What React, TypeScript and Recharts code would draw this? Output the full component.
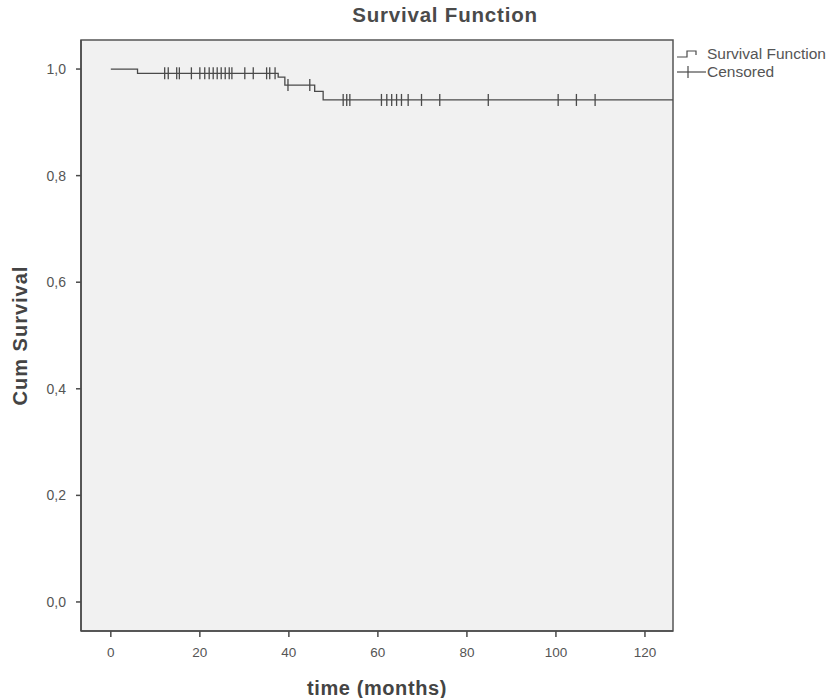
import {
  ComposedChart,
  Line,
  Scatter,
  XAxis,
  YAxis,
  ReferenceArea,
} from "recharts";

// step points of the Kaplan-Meier curve (time in months, cum survival)
const survTimes = [0, 6, 37.6, 39.1, 45.8, 47.7, 126.3];
const survValues = [1.0, 0.992, 0.985, 0.97, 0.958, 0.942, 0.942];

// censored observations (months)
const censoredTimes = [
  12.1, 12.9, 14.8, 15.4, 18.1, 20.0, 21.1, 22.1, 23.0, 23.9, 24.8, 25.7,
  26.6, 27.2, 30.1, 32.0, 35.0, 35.7, 36.9, 39.8, 44.7, 52.2, 53.0, 53.7,
  60.8, 62.0, 63.1, 64.2, 65.3, 66.8, 69.8, 73.9, 84.8, 100.5, 104.6, 108.8,
];

const xTicks = [0, 20, 40, 60, 80, 100, 120];
const yTicks = [0, 0.2, 0.4, 0.6, 0.8, 1.0];
const xDomain = [-6.7, 126.3];
const yDomain = [-0.0545, 1.0545];

const FONT = "'Liberation Sans', Arial, sans-serif";
const INK = "#4a4a4a";

const survivalAt = (t: number) => {
  let v = survValues[0];
  survTimes.forEach((s, i) => {
    if (s <= t) v = survValues[i];
  });
  return v;
};

const curveData = survTimes.map((t, i) => ({ time: t, surv: survValues[i] }));
const censorData = censoredTimes.map((t) => ({ time: t, surv: survivalAt(t) }));

// eslint-disable-next-line @typescript-eslint/no-explicit-any
const CensorMark = (props: any) => {
  const { cx, cy } = props;
  return (
    <line x1={cx} x2={cx} y1={cy - 6} y2={cy + 6} stroke={INK} strokeWidth={1.3} />
  );
};

const tickStyle = { fontSize: 13.5, fill: "#555", fontFamily: FONT };
const titleStyle = {
  fontSize: 20,
  fontWeight: "bold",
  fill: "#444",
  fontFamily: FONT,
  letterSpacing: 0.6,
};

export default function App() {
  return (
    <div style={{ position: "relative", width: 828, height: 698, background: "#fff", fontFamily: FONT }}>
      <style>{`body{margin:0}`}</style>
      <div
        style={{
          position: "absolute",
          top: 3,
          left: 445,
          transform: "translateX(-50%)",
          fontSize: 20.5,
          fontWeight: "bold",
          letterSpacing: 0.8,
          color: "#4a4a4a",
          whiteSpace: "nowrap",
        }}
      >
        Survival Function
      </div>
      <ComposedChart
        width={828}
        height={698}
        margin={{ top: 40, right: 155, bottom: 3, left: 0 }}
      >
        <XAxis
          type="number"
          dataKey="time"
          domain={xDomain}
          ticks={xTicks}
          allowDataOverflow
          height={64}
          tick={tickStyle}
          tickSize={6}
          tickMargin={10}
          tickLine={{ stroke: INK, strokeWidth: 1.5 }}
          axisLine={{ stroke: INK, strokeWidth: 1.5 }}
          label={{
            value: "time (months)",
            position: "insideBottom",
            offset: 0,
            style: titleStyle,
          }}
        />
        <YAxis
          type="number"
          dataKey="surv"
          domain={yDomain}
          ticks={yTicks}
          allowDataOverflow
          width={81}
          tickFormatter={(v: number) => v.toFixed(1).replace(".", ",")}
          tick={{ ...tickStyle, fontSize: 14 }}
          tickSize={5}
          tickMargin={10}
          tickLine={{ stroke: INK, strokeWidth: 1.5 }}
          axisLine={{ stroke: INK, strokeWidth: 1.5 }}
          label={{
            value: "Cum Survival",
            angle: -90,
            position: "insideLeft",
            offset: 20,
            style: { ...titleStyle, textAnchor: "middle", letterSpacing: 1 },
          }}
        />
        <ReferenceArea
          x1={xDomain[0]}
          x2={xDomain[1]}
          y1={yDomain[0]}
          y2={yDomain[1]}
          fill="#f1f1f1"
          fillOpacity={1}
          stroke="#555"
          strokeWidth={1.5}
          ifOverflow="visible"
        />
        <Line
          data={curveData}
          dataKey="surv"
          type="stepAfter"
          stroke={INK}
          strokeWidth={1.3}
          dot={false}
          isAnimationActive={false}
        />
        <Scatter
          data={censorData}
          dataKey="surv"
          shape={<CensorMark />}
          isAnimationActive={false}
        />
      </ComposedChart>
      <div
        style={{
          position: "absolute",
          left: 676,
          top: 45,
          fontSize: 15.5,
          color: "#555",
          lineHeight: "18px",
          whiteSpace: "nowrap",
        }}
      >
        <div style={{ display: "flex", alignItems: "center" }}>
          <svg width={31} height={14}>
            <polyline points="1,10 11,10 11,4 20,4 20,8" fill="none" stroke={INK} strokeWidth={1.2} />
          </svg>
          <span>Survival Function</span>
        </div>
        <div style={{ display: "flex", alignItems: "center" }}>
          <svg width={31} height={14}>
            <line x1={1} x2={30} y1={7} y2={7} stroke={INK} strokeWidth={1.2} />
            <line x1={12} x2={12} y1={1} y2={13} stroke={INK} strokeWidth={1.2} />
          </svg>
          <span>Censored</span>
        </div>
      </div>
    </div>
  );
}
